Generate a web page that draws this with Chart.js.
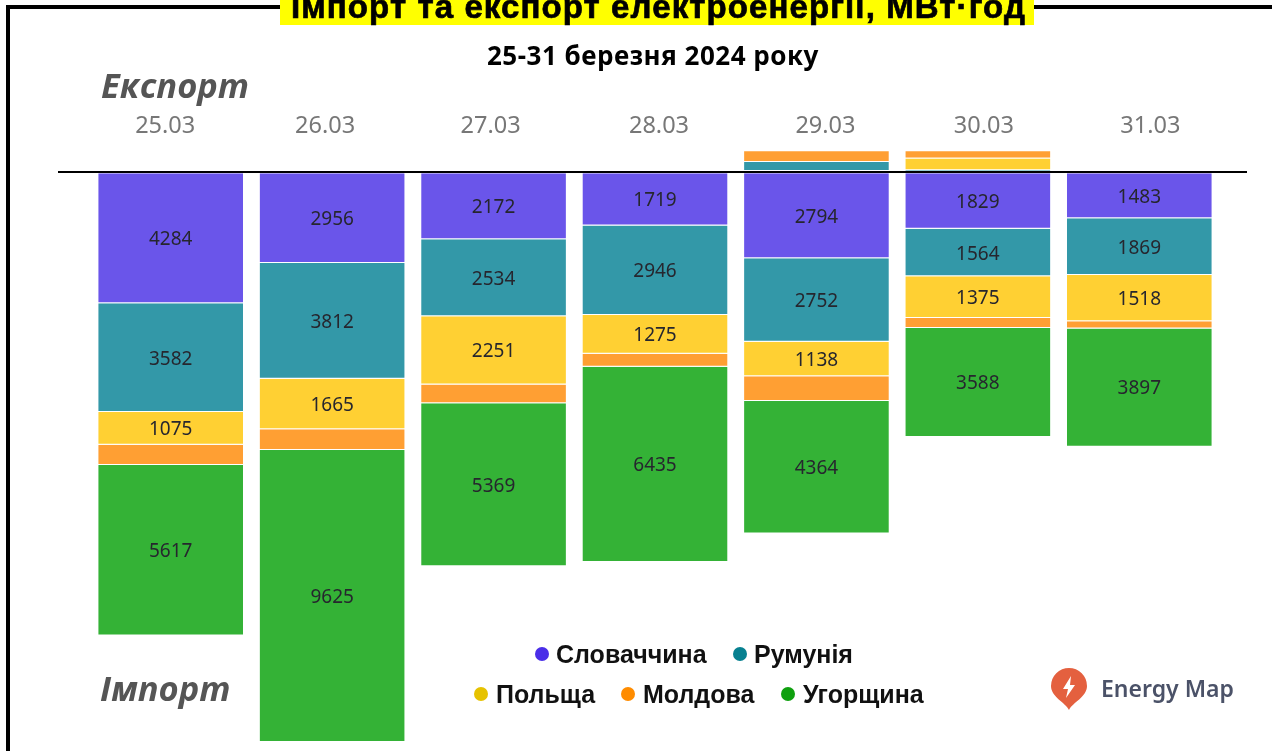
<!DOCTYPE html>
<html lang="uk">
<head>
<meta charset="utf-8">
<title>Імпорт та експорт електроенергії</title>
<script src="https://cdn.jsdelivr.net/npm/chart.js@4"></script>
<style>
body{margin:0;background:#fff;}
#page{position:relative;width:1272px;height:751px;overflow:hidden;background:#fff;}
#frame{position:absolute;left:6px;top:5px;width:1300px;height:800px;border-left:4px solid #000;border-top:4px solid #000;}
#chart{position:absolute;left:0;top:0;}
.txt{position:absolute;white-space:nowrap;}
#title{left:280px;top:-10px;width:754px;height:35px;background:#ff0;text-align:center;text-indent:3px;font:bold 33px/33px "Liberation Sans",sans-serif;letter-spacing:1.1px;-webkit-text-stroke:.7px #000;color:#000;}
#subtitle{left:487px;top:39px;font:bold 26px/32px "Noto Sans",sans-serif;color:#000;letter-spacing:.5px;}
.side{font:italic bold 34.5px/40px "Open Sans",sans-serif;color:#555;}
.leg{font:bold 25px/30px "Liberation Sans",sans-serif;color:#111;}
.dot{position:absolute;width:14px;height:14px;border-radius:50%;}
#logo{position:absolute;left:1050px;top:667px;}
#logotext{left:1101px;top:673px;font:600 23px/30px "Noto Sans",sans-serif;color:#4b5268;}
</style>
</head>
<body>
<div id="page">
    <div id="frame"></div>
    <canvas id="chart" width="1272" height="751"></canvas>
    <div class="txt" id="title">Імпорт та експорт електроенергії, МВт·год</div>
    <div class="txt" id="subtitle">25-31 березня 2024 року</div>
    <div class="txt side" style="left:101px;top:65px">Експорт</div>
    <div class="txt side" style="left:100px;top:668px">Імпорт</div>
    <div id="legend"></div>
    <svg id="logo" width="38" height="44" viewBox="0 0 38 44">
        <path d="M19 43C15 35 1 30 1 19a18 18 0 0 1 36 0C37 30 23 35 19 43Z" fill="#e4603f"/>
        <path d="M21 9 13 22h5l-2 9 9-13h-5Z" fill="#fff"/>
    </svg>
    <div class="txt" id="logotext">Energy Map</div>
</div>
<script>
const days=["25.03","26.03","27.03","28.03","29.03","30.03","31.03"];

// import, MWh
const importSlovakia=[4284,2956,2172,1719,2794,1829,1483];
const importRomania=[3582,3812,2534,2946,2752,1564,1869];
const importPoland=[1075,1665,2251,1275,1138,1375,1518];
const importMoldova=[670,680,620,430,820,330,240];
const importHungary=[5617,9625,5369,6435,4364,3588,3897];

// export, MWh (no labels in the picture)
const exportSlovakia=[0,0,0,0,110,0,0];
const exportRomania=[0,0,0,0,300,130,0];
const exportPoland=[0,0,0,0,0,380,0];
const exportMoldova=[0,0,0,0,350,250,70];

const names=["Словаччина","Румунія","Польща","Молдова","Угорщина"];
const barColors=["#6a55ea","#3398a8","#ffd033","#ff9f33","#34b236"];
const dotColors=["#4a2ee8","#078090","#e6c200","#ff8c00","#0fa00f"];

const legendSpots=[[535,556,639],[733,754,639],[474,496,679],[621,643,679],[781,803,679]];

// the date labels in the picture sit a little off the bar centres
const tickShift=[-5.5,-7,-3,4,9,6,11];

const legend=document.getElementById("legend");
names.forEach((name,i)=>{
    const [dotX,textX,y]=legendSpots[i];
    legend.insertAdjacentHTML("beforeend",
        '<div class="dot" style="left:'+dotX+'px;top:'+(y+8)+'px;background:'+dotColors[i]+'"></div>'+
        '<div class="txt leg" style="left:'+textX+'px;top:'+y+'px">'+name+'</div>'
    );
});

function bar(label,values,color,showLabel){
    return {
        label,
        data:values,
        backgroundColor:color,
        borderColor:"rgba(255,255,255,0.75)",
        borderWidth:1,
        stack:"all",
        showLabel
    };
}

// numbers inside the import bars, date labels, zero line that runs past the plot
const barLabels={
    id:"barLabels",
    afterDatasetsDraw(chart){
        const ctx=chart.ctx;
        ctx.save();
        ctx.font='19px "Noto Sans"';
        ctx.fillStyle="#26262e";
        ctx.textAlign="center";
        ctx.textBaseline="middle";
        chart.data.datasets.forEach((ds,i)=>{
            if(!ds.showLabel)
                return;
            chart.getDatasetMeta(i).data.forEach((el,j)=>{
                const c=el.getCenterPoint();
                ctx.fillText(Math.abs(ds.data[j]),c.x,c.y+1.5);
            });
        });
        const xScale=chart.scales.x;
        ctx.font='23.5px "Noto Sans"';
        ctx.fillStyle="#777";
        days.forEach((day,i)=>{
            ctx.fillText(day,xScale.getPixelForTick(i)+tickShift[i],126);
        });
        const zero=chart.scales.y.getPixelForValue(0);
        ctx.fillStyle="#000";
        ctx.fillRect(58,Math.round(zero)-2,1189,2);
        ctx.restore();
    }
};

const neg=arr=>arr.map(v=>-v);

new Chart(document.getElementById("chart"),{
    type:"bar",
    data:{
        labels:days,
        datasets:[
            bar("Словаччина",neg(importSlovakia),barColors[0],true),
            bar("Румунія",neg(importRomania),barColors[1],true),
            bar("Польща",neg(importPoland),barColors[2],true),
            bar("Молдова",neg(importMoldova),barColors[3],false),
            bar("Угорщина",neg(importHungary),barColors[4],true),
            bar("Словаччина експорт",exportSlovakia,barColors[0],false),
            bar("Румунія експорт",exportRomania,barColors[1],false),
            bar("Польща експорт",exportPoland,barColors[2],false),
            bar("Молдова експорт",exportMoldova,barColors[3],false)
        ]
    },
    options:{
        responsive:false,
        animation:false,
        categoryPercentage:1,
        barPercentage:0.908,
        layout:{
            padding:{left:90,right:52,top:100,bottom:1}
        },
        plugins:{
            legend:{display:false},
            title:{display:false},
            tooltip:{enabled:false}
        },
        scales:{
            x:{
                position:"top",
                stacked:true,
                grid:{display:false},
                border:{display:false},
                ticks:{display:false},
                afterFit(scale){
                    scale.height=43;
                }
            },
            y:{
                display:false,
                stacked:true,
                min:-19000,
                max:1000
            }
        }
    },
    plugins:[barLabels]
});
</script>
</body>
</html>
